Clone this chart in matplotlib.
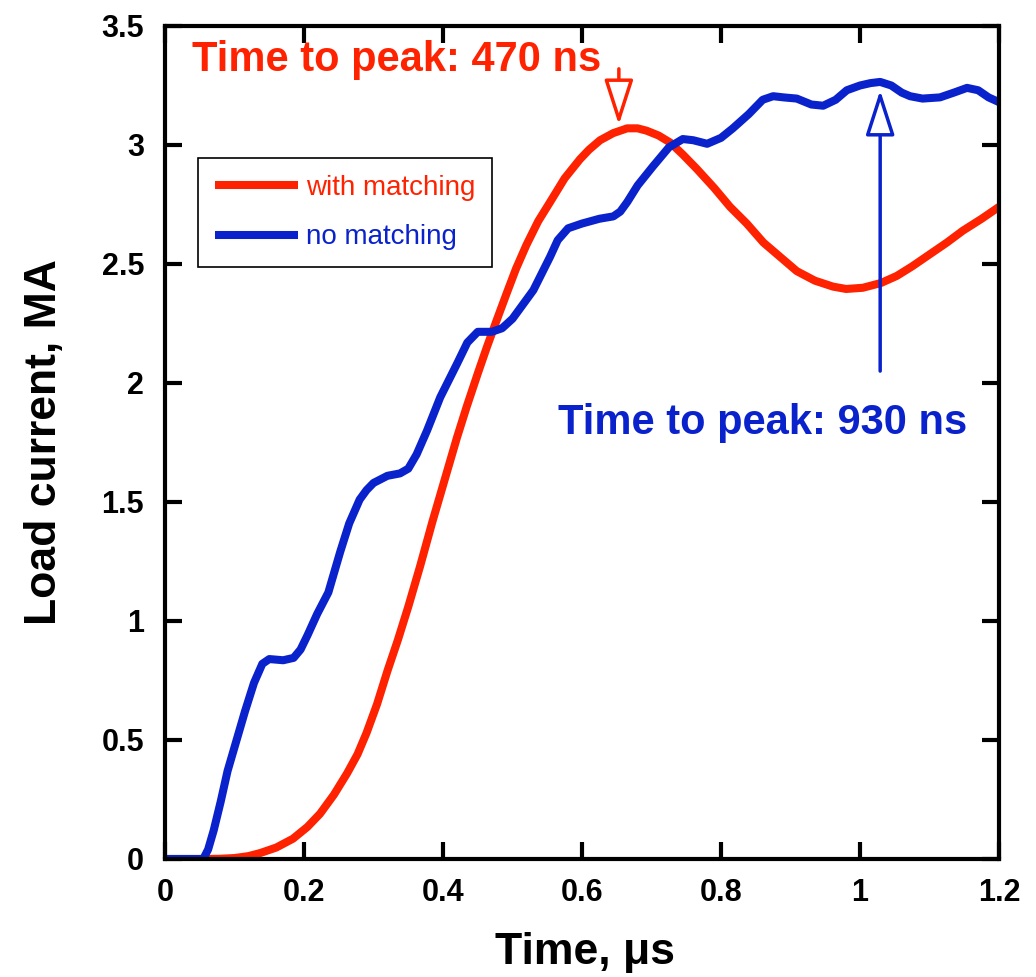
import matplotlib
matplotlib.use('Agg')
import matplotlib.pyplot as plt

plt.rcParams['font.family'] = ['Liberation Sans', 'DejaVu Sans']

# time in us, current in MA
t_match = [0, 0.06, 0.08, 0.1, 0.12, 0.137, 0.16, 0.184, 0.205, 0.223, 0.243,
           0.262, 0.277, 0.29, 0.305, 0.32, 0.335, 0.35, 0.367, 0.385, 0.404,
           0.42, 0.434, 0.45, 0.463, 0.478, 0.492, 0.505, 0.52, 0.537, 0.554,
           0.575, 0.597, 0.61, 0.626, 0.645, 0.665, 0.68, 0.693, 0.71, 0.727,
           0.745, 0.765, 0.79, 0.813, 0.837, 0.861, 0.885, 0.909, 0.935, 0.961,
           0.98, 1.004, 1.03, 1.053, 1.075, 1.10, 1.125, 1.148, 1.175, 1.2]
i_match = [0, 0, 0.001, 0.004, 0.012, 0.025, 0.048, 0.085, 0.135, 0.19, 0.27,
           0.36, 0.44, 0.53, 0.65, 0.79, 0.92, 1.06, 1.23, 1.42, 1.61,
           1.77, 1.90, 2.04, 2.15, 2.27, 2.38, 2.48, 2.58, 2.68, 2.76,
           2.86, 2.94, 2.98, 3.02, 3.05, 3.07, 3.07, 3.06, 3.04, 3.01,
           2.96, 2.90, 2.82, 2.74, 2.67, 2.59, 2.53, 2.47, 2.43, 2.405,
           2.395, 2.40, 2.42, 2.45, 2.49, 2.54, 2.59, 2.64, 2.69, 2.74]

t_nomatch = [0, 0.03, 0.055, 0.062, 0.07, 0.08, 0.09, 0.103, 0.115, 0.128,
             0.14, 0.15, 0.17, 0.185, 0.195, 0.205, 0.219, 0.235, 0.252, 0.265,
             0.28, 0.29, 0.30, 0.32, 0.338, 0.35, 0.362, 0.377, 0.396, 0.42,
             0.435, 0.45, 0.47, 0.485, 0.50, 0.515, 0.53, 0.554, 0.565, 0.58,
             0.60, 0.625, 0.645, 0.655, 0.665, 0.68, 0.702, 0.725, 0.745, 0.76,
             0.78, 0.80, 0.817, 0.84, 0.86, 0.875, 0.89, 0.909, 0.93, 0.947,
             0.965, 0.981, 1.0, 1.015, 1.029, 1.045, 1.06, 1.072, 1.09, 1.115,
             1.135, 1.154, 1.17, 1.185, 1.2]
i_nomatch = [0, 0, 0, 0.04, 0.12, 0.24, 0.37, 0.50, 0.62, 0.74,
             0.82, 0.84, 0.835, 0.845, 0.88, 0.94, 1.03, 1.12, 1.29, 1.41,
             1.51, 1.55, 1.58, 1.61, 1.62, 1.64, 1.70, 1.80, 1.94, 2.08,
             2.17, 2.215, 2.215, 2.23, 2.27, 2.33, 2.39, 2.53, 2.60, 2.65,
             2.67, 2.69, 2.70, 2.72, 2.76, 2.83, 2.91, 2.99, 3.025, 3.02,
             3.005, 3.03, 3.07, 3.13, 3.19, 3.205, 3.20, 3.195, 3.17, 3.165,
             3.19, 3.23, 3.25, 3.26, 3.265, 3.25, 3.22, 3.205, 3.195, 3.20,
             3.22, 3.24, 3.23, 3.20, 3.18]

xticks = [0, 0.2, 0.4, 0.6, 0.8, 1.0, 1.2]
xticklabels = ['0', '0.2', '0.4', '0.6', '0.8', '1', '1.2']
yticks = [0, 0.5, 1, 1.5, 2, 2.5, 3, 3.5]
yticklabels = ['0', '0.5', '1', '1.5', '2', '2.5', '3', '3.5']

red = '#ff2200'
blue = '#0a22cc'

fig = plt.figure(figsize=(10.36, 9.77), dpi=100)
ax = fig.add_axes([0.1593, 0.1208, 0.805, 0.8526])

ax.plot(t_match, i_match, color=red, lw=5.8, solid_joinstyle='round',
        solid_capstyle='butt', label='with matching')
ax.plot(t_nomatch, i_nomatch, color=blue, lw=5.8, solid_joinstyle='round',
        solid_capstyle='butt', label='no matching')

ax.set_xlim(0, 1.2)
ax.set_ylim(0, 3.5)
ax.set_xticks(xticks)
ax.set_xticklabels(xticklabels)
ax.set_yticks(yticks)
ax.set_yticklabels(yticklabels)
ax.tick_params(direction='in', length=12, width=3, labelsize=22, pad=12,
               top=True, right=True)
ax.tick_params(axis='y', pad=15)
ax.tick_params(axis='x', pad=14)
for lab in ax.get_xticklabels() + ax.get_yticklabels():
    lab.set_fontweight('bold')
for sp in ax.spines.values():
    sp.set_linewidth(3)

ax.set_xlabel('Time, μs', fontsize=32, fontweight='bold')
ax.set_ylabel('Load current, MA', fontsize=32, fontweight='bold')
ax.xaxis.set_label_coords(0.504, -0.088)
ax.yaxis.set_label_coords(-0.12, 0.5)

leg = ax.legend(loc='upper left', bbox_to_anchor=(0.0396, 0.8415),
                borderaxespad=0, fontsize=20, handlelength=3.0,
                handletextpad=0.3, labelspacing=0.85, borderpad=0.6,
                fancybox=False, framealpha=1, edgecolor='black',
                labelcolor='linecolor')
leg.get_frame().set_linewidth(1.2)

# peak annotations
ax.text(0.039, 3.355, 'Time to peak: 470 ns', color=red, fontsize=30,
        fontweight='bold', va='center', ha='left')
ax.annotate('', xy=(0.653, 3.085), xytext=(0.653, 3.32),
            arrowprops=dict(arrowstyle='-|>,head_length=1.4,head_width=0.45',
                            mutation_scale=20, fc='white', ec=red, lw=2.5,
                            shrinkA=0, shrinkB=0))

ax.text(0.565, 1.83, 'Time to peak: 930 ns', color=blue, fontsize=30,
        fontweight='bold', va='center', ha='left')
ax.annotate('', xy=(1.029, 3.23), xytext=(1.029, 2.05),
            arrowprops=dict(arrowstyle='-|>,head_length=1.4,head_width=0.45',
                            mutation_scale=20, fc='white', ec=blue, lw=2.5,
                            shrinkA=0, shrinkB=0))

fig.savefig('out.png', dpi=100)
